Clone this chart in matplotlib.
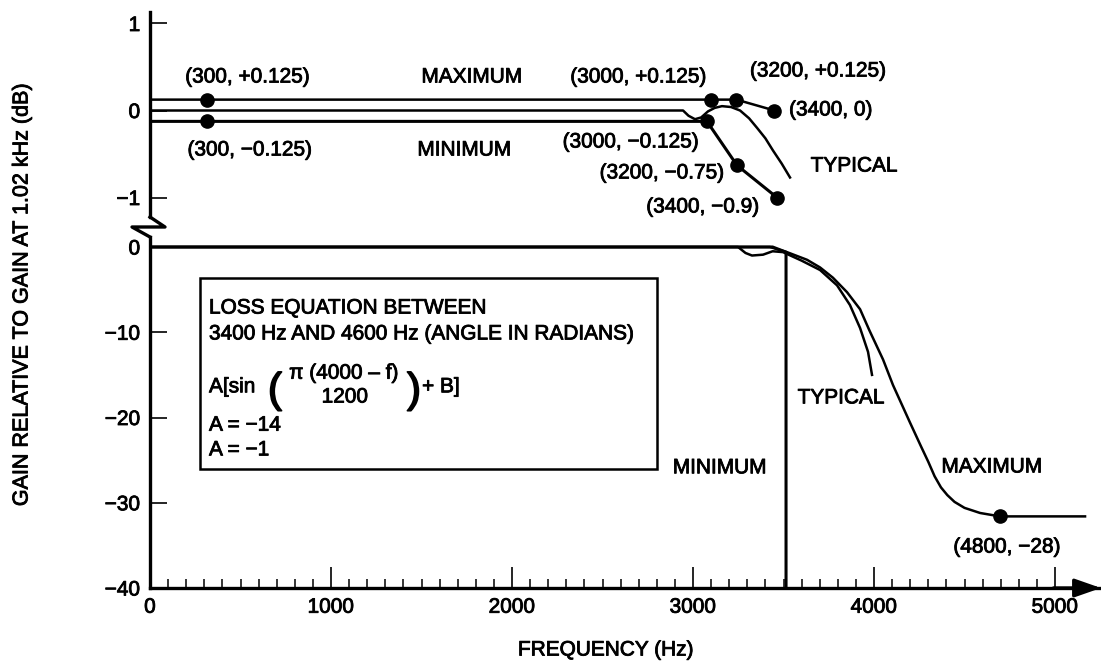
import numpy as np
import matplotlib
matplotlib.use('Agg')
import matplotlib.pyplot as plt
import matplotlib.patheffects as pe
from matplotlib.lines import Line2D
from matplotlib.patches import Rectangle

plt.rcParams['font.family'] = ['Liberation Sans', 'DejaVu Sans']

# upper panel (expanded scale, dB)
max_up_f = [0, 3100, 3240, 3450]
max_up_db = [0.125, 0.125, 0.125, 0.0]
max_up_dots_f = [315, 3100, 3240, 3450]
max_up_dots_db = [0.125, 0.125, 0.125, 0.0]

typ_up_f = [0, 2945, 2975, 3011, 3045, 3083, 3120, 3160, 3210, 3260, 3310, 3354, 3400, 3442, 3490, 3536]
typ_up_db = [0, 0, -0.06, -0.10, -0.08, -0.01, 0.03, 0.05, 0.04, 0.0, -0.09, -0.20, -0.32, -0.46, -0.61, -0.77]

min_up_f = [0, 3077, 3243, 3464]
min_up_db = [-0.125, -0.125, -0.63, -1.0]
min_up_dots_f = [315, 3077, 3243, 3464]
min_up_dots_db = [-0.125, -0.125, -0.63, -1.0]

# lower panel (dB)
max_lo_f = [0, 3425, 3519, 3630, 3702, 3773, 3851, 3923, 3975, 4050, 4105, 4199, 4260,
            4300, 4335, 4370, 4405, 4445, 4500, 4586, 4696, 5166]
max_lo_db = [0, 0, -0.6, -1.5, -2.4, -3.6, -5.3, -7.3, -9.8, -13.2, -16.2, -20.6, -23.4,
             -25.2, -26.9, -28.2, -29.1, -29.9, -30.6, -31.2, -31.6, -31.6]
max_lo_dot = (4696, -31.6)

typ_lo_f = [0, 3249, 3290, 3326, 3387, 3440, 3497, 3600, 3702, 3796, 3867, 3923, 3967, 3989]
typ_lo_db = [0, 0, -0.7, -1.0, -0.9, -0.5, -0.6, -1.6, -2.7, -4.5, -6.8, -9.5, -12.3, -15.0]

min_lo_f = [0, 3440, 3514, 3514]
min_lo_db = [0, 0, -0.6, -40]

up_labels = [
    ('(300, +0.125)', 539, 0.385),
    ('MAXIMUM', 1779, 0.385),
    ('(300, \u22120.125)', 552, -0.454),
    ('MINIMUM', 1738, -0.454),
    ('(3000, +0.125)', 2699, 0.385),
    ('(3200, +0.125)', 3691, 0.454),
    ('(3400, 0)', 3762, 0.006),
    ('(3000, \u22120.125)', 2657, -0.362),
    ('(3200, \u22120.75)', 2829, -0.718),
    ('(3400, \u22120.9)', 3055, -1.109),
    ('TYPICAL', 3890, -0.638),
]
lo_labels = [
    ('TYPICAL', 3818, -17.7),
    ('MINIMUM', 3149, -25.9),
    ('MAXIMUM', 4652, -25.8),
    ('(4800, \u221228)', 4735, -35.2),
]

W, H = 1101, 667
fig = plt.figure(figsize=(W / 100, H / 100), dpi=100)

def fx(px):
    return px / W

def fy(py):
    return 1 - py / H

x_right = 5000 * (1101 - 150) / 905.0
fs = 15
lw_ax = 2.4
lw = 1.8
heavy = [pe.withStroke(linewidth=0.6, foreground='k')]

ax_lo = fig.add_axes([fx(150), fy(588), (1101 - 150) / W, (588 - 237) / H])
ax_up = fig.add_axes([fx(150), fy(217), (1101 - 150) / W, (217 - 12) / H])

for ax in (ax_lo, ax_up):
    ax.set_facecolor('none')
    ax.set_xlim(0, x_right)
    ax.spines['top'].set_visible(False)
    ax.spines['right'].set_visible(False)
    ax.spines['left'].set_linewidth(lw_ax)
    ax.tick_params(axis='y', direction='in', length=12, width=1.2, pad=7, labelsize=fs)

ax_up.spines['bottom'].set_visible(False)
ax_up.set_ylim((110.5 - 217) / 87, (110.5 - 12) / 87)
ax_up.set_yticks([1, 0, -1])
ax_up.set_xticks([])

ax_lo.spines['bottom'].set_linewidth(lw_ax)
ax_lo.set_ylim(-40, -40 + (588 - 237) / 8.525)
ax_lo.set_yticks([0, -10, -20, -30, -40])
ax_lo.set_xticks(np.arange(0, 5001, 1000))
ax_lo.set_xticks([v for v in range(100, 5000, 100) if v % 1000], minor=True)
ax_lo.tick_params(axis='x', which='major', direction='in', length=15, width=1.2, pad=7, labelsize=fs)
ax_lo.tick_params(axis='x', which='minor', direction='in', length=6.5, width=1.1)

for ax in (ax_lo, ax_up):
    for lab in ax.get_xticklabels() + ax.get_yticklabels():
        lab.set_path_effects(heavy)

# upper curves
ax_up.plot(max_up_f, max_up_db, color='k', lw=lw)
ax_up.plot(typ_up_f, typ_up_db, color='k', lw=lw)
ax_up.plot(min_up_f, min_up_db, color='k', lw=lw + 0.4)
ax_up.plot(max_up_dots_f, max_up_dots_db, 'o', color='k', ms=9.5)
ax_up.plot(min_up_dots_f, min_up_dots_db, 'o', color='k', ms=9.5)

# lower curves
ax_lo.plot(max_lo_f, max_lo_db, color='k', lw=lw)
ax_lo.plot(typ_lo_f, typ_lo_db, color='k', lw=lw)
ax_lo.plot(min_lo_f, min_lo_db, color='k', lw=lw + 0.4)
ax_lo.plot(*max_lo_dot, 'o', color='k', ms=9.5)

for txt, x, y in up_labels:
    ax_up.text(x, y, txt, fontsize=fs, ha='center', va='center', path_effects=heavy)
for txt, x, y in lo_labels:
    ax_lo.text(x, y, txt, fontsize=fs, ha='center', va='center', path_effects=heavy)

# loss equation box
ax_lo.add_patch(Rectangle((276, -26.0), 2801 - 276, 22.36, fill=False, lw=1.8, ec='k'))
box_lines = [
    ('LOSS EQUATION BETWEEN', 326, -7.16),
    ('3400 Hz AND 4600 Hz (ANGLE IN RADIANS)', 326, -10.2),
    ('A[sin', 326, -16.4),
    ('A = \u221214', 326, -20.9),
    ('A = \u22121', 326, -23.8),
]
for txt, x, y in box_lines:
    ax_lo.text(x, y, txt, fontsize=fs, va='center', path_effects=heavy)
# fraction pieces of the equation
paren_fx = [pe.withStroke(linewidth=1.2, foreground='k')]
ax_lo.text(690, -16.9, '(', fontsize=30, ha='center', va='center', path_effects=paren_fx)
ax_lo.text(1072, -14.8, '\u03c0 (4000 \u2013 f)', fontsize=fs, ha='center', va='center',
           path_effects=heavy)
ax_lo.text(1077, -17.6, '1200', fontsize=fs, ha='center', va='center', path_effects=heavy)
ax_lo.text(1459, -16.9, ')', fontsize=30, ha='center', va='center', path_effects=paren_fx)
ax_lo.text(1503, -16.4, '+ B]', fontsize=fs, va='center', path_effects=heavy)

# axis arrow
ax_lo.annotate('', xy=(1.0, 0), xycoords='axes fraction', xytext=(0.95, 0),
               arrowprops=dict(arrowstyle='-|>,head_length=0.8,head_width=0.28',
                               mutation_scale=20, lw=lw_ax, color='k',
                               shrinkA=0, shrinkB=0),
               annotation_clip=False)

# axis break zigzag
zz_x = [150, 165, 132, 150]
zz_y = [217, 227, 227, 237]
fig.add_artist(Line2D([fx(v) for v in zz_x], [fy(v) for v in zz_y],
                      transform=fig.transFigure, color='k', lw=lw_ax))

fig.text(fx(606), fy(650), 'FREQUENCY (Hz)', fontsize=fs, ha='center', va='center',
         path_effects=heavy)
fig.text(fx(22), fy(295), 'GAIN RELATIVE TO GAIN AT 1.02 kHz (dB)', fontsize=15.5,
         ha='center', va='center', rotation=90, path_effects=heavy)

fig.savefig('out.png', dpi=100)
